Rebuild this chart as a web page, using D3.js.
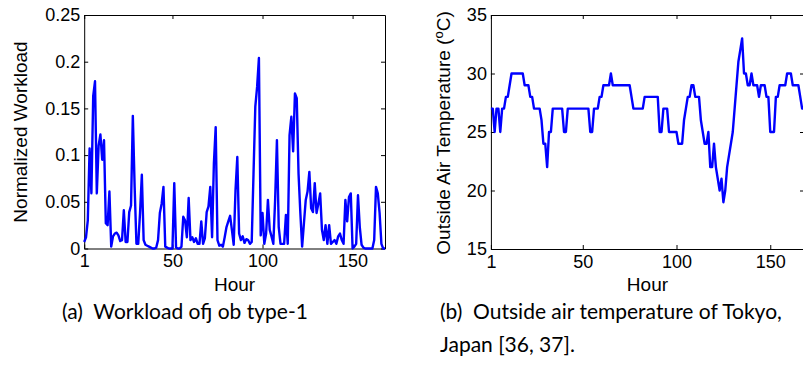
<!DOCTYPE html>
<html>
<head>
<meta charset="utf-8">
<script src="https://cdn.jsdelivr.net/npm/d3@7"></script>
<style>
  body { margin: 0; background: #fff; }
  svg { display: block; }
  .axis text { font-family: "Liberation Sans", Arial, sans-serif; font-size: 18px; fill: #000; }
  .axis path, .axis line { stroke: #000; stroke-width: 1; }
  .label { font-family: "Liberation Sans", Arial, sans-serif; font-size: 19px; fill: #000; }
  .caption { font-family: Lato, "Open Sans", sans-serif; font-size: 21px; fill: #000; }
</style>
</head>
<body>
<div id="chart"></div>
<script>
// hours of the week, 1..168
const hours = d3.range(1, 169);

// (a) normalized workload of job type-1
const workload = [
  0.007, 0.012, 0.030, 0.107, 0.059, 0.163, 0.179, 0.059, 0.110, 0.122,
  0.095, 0.116, 0.027, 0.025, 0.061, 0.002, 0.013, 0.016, 0.017, 0.014,
  0.008, 0.009, 0.041, 0.007, 0.007, 0.039, 0.046, 0.142, 0.066, 0.005,
  0.005, 0.038, 0.079, 0.009, 0.004, 0.003, 0.002, 0.001, 0, 0,
  0.001, 0.009, 0.038, 0.048, 0.066, 0.002, 0.001, 0, 0, 0,
  0.070, 0.001, 0, 0, 0.002, 0.034, 0.030, 0.012, 0.054, 0.009,
  0.012, 0.007, 0.011, 0.005, 0.005, 0.029, 0.005, 0.011, 0.039, 0.045,
  0.066, 0.012, 0.091, 0.130, 0.009, 0.003, 0.004, 0.002, 0.012, 0.023,
  0.029, 0.035, 0.020, 0.004, 0.062, 0.098, 0.016, 0.009, 0.013, 0.006,
  0.010, 0.009, 0.005, 0.007, 0.080, 0.152, 0.173, 0.204, 0.014, 0.038,
  0.005, 0.016, 0.052, 0.020, 0.013, 0.005, 0.052, 0.116, 0.023, 0.005,
  0.005, 0.005, 0.036, 0.005, 0.121, 0.141, 0.104, 0.166, 0.161, 0.080,
  0.038, 0.002, 0.027, 0.052, 0.061, 0.082, 0.043, 0.039, 0.070, 0.038,
  0.048, 0.059, 0.020, 0.009, 0.025, 0.005, 0.025, 0.005, 0.007, 0.009,
  0.005, 0.013, 0.016, 0.009, 0.005, 0.052, 0.029, 0.055, 0.059, 0,
  0.002, 0.005, 0.057, 0.023, 0.004, 0.001, 0, 0, 0, 0,
  0, 0.009, 0.066, 0.059, 0.038, 0.005, 0, 0
];

// (b) outside air temperature of Tokyo (deg C)
const temperature = [
  27, 27, 25, 27, 27, 25, 27, 27, 28, 28,
  29, 30, 30, 30, 30, 30, 30, 30, 29, 29,
  29, 28, 28, 27, 27, 27, 27, 26, 24, 24,
  22, 25, 25, 27, 27, 27, 27, 27, 27, 25,
  25, 27, 27, 27, 27, 27, 27, 27, 27, 27,
  27, 27, 27, 25, 25, 27, 27, 27, 28, 28,
  29, 29, 29, 29, 30, 29, 29, 29, 29, 29,
  29, 29, 29, 29, 29, 28, 27, 27, 27, 27,
  27, 27, 28, 28, 28, 28, 28, 28, 28, 28,
  25, 25, 27, 27, 27, 25, 25, 25, 25, 25,
  24, 24, 24, 26, 27, 28, 28, 29, 29, 28,
  28, 28, 26, 25, 24, 24, 25, 22, 22, 24,
  22, 21, 20, 21, 19, 20, 22, 23, 24, 25,
  27, 29, 31, 32, 33, 30, 30, 29, 29, 30,
  29, 29, 29, 28, 29, 29, 29, 28, 28, 25,
  25, 25, 28, 28, 29, 29, 29, 29, 30, 30,
  30, 29, 29, 29, 29, 28, 27, 27
];

const xTicks = [1, 50, 100, 150];
const workloadTicks = [0, 0.05, 0.1, 0.15, 0.2, 0.25];
const workloadTickLabels = ["0", "0.05", "0.1", "0.15", "0.2", "0.25"];
const tempTicks = [15, 20, 25, 30, 35];

const W = 803, H = 367;

const svg = d3.select("#chart")
    .append("svg")
    .attr("width", W)
    .attr("height", H);

// draws one matlab style panel: boxed axes, inward ticks on all sides
function drawPanel(p) {
    const x = d3.scaleLinear().domain([1, 168]).range([p.left, p.right]);
    const y = d3.scaleLinear().domain(p.yDomain).range([p.bottom, p.top]);
    const tick = 4;

    svg.append("g")
        .attr("class", "axis")
        .attr("transform", `translate(0, ${p.bottom})`)
        .call(d3.axisBottom(x).tickValues(xTicks).tickSizeInner(-tick).tickSizeOuter(0).tickPadding(6));
    svg.append("g")
        .attr("class", "axis")
        .attr("transform", `translate(0, ${p.top})`)
        .call(d3.axisTop(x).tickValues(xTicks).tickSizeInner(-tick).tickSizeOuter(0).tickFormat(""));
    svg.append("g")
        .attr("class", "axis")
        .attr("transform", `translate(${p.left}, 0)`)
        .call(d3.axisLeft(y).tickValues(p.yTicks).tickSizeInner(-tick).tickSizeOuter(0).tickPadding(4)
            .tickFormat((d, i) => p.yLabels[i]));
    svg.append("g")
        .attr("class", "axis")
        .attr("transform", `translate(${p.right}, 0)`)
        .call(d3.axisRight(y).tickValues(p.yTicks).tickSizeInner(-tick).tickSizeOuter(0).tickFormat(""));

    const line = d3.line()
        .x((d, i) => x(hours[i]))
        .y(d => y(d));

    svg.append("path")
        .datum(p.values)
        .attr("fill", "none")
        .attr("stroke", "#0000ff")
        .attr("stroke-width", 2.4)
        .attr("stroke-linejoin", "round")
        .attr("d", line);

    // x label
    svg.append("text")
        .attr("class", "label")
        .attr("x", (p.left + p.right) / 2)
        .attr("y", p.bottom + 42)
        .attr("text-anchor", "middle")
        .text("Hour");
}

drawPanel({
    left: 84.2, right: 385, top: 15, bottom: 248.5,
    yDomain: [0, 0.25], yTicks: workloadTicks, yLabels: workloadTickLabels,
    values: workload
});

drawPanel({
    left: 490.9, right: 804, top: 15, bottom: 249,
    yDomain: [15, 35], yTicks: tempTicks, yLabels: tempTicks.map(String),
    values: temperature
});

// y labels
svg.append("text")
    .attr("class", "label")
    .attr("transform", "translate(27, 132) rotate(-90)")
    .attr("text-anchor", "middle")
    .text("Normalized Workload");

const tLabel = svg.append("text")
    .attr("class", "label")
    .attr("transform", "translate(450, 133) rotate(-90)")
    .attr("text-anchor", "middle");
tLabel.append("tspan").text("Outside Air Temperature (");
tLabel.append("tspan").attr("dy", -7).style("font-size", "13px").text("o");
tLabel.append("tspan").attr("dy", 7).text("C)");

// captions
svg.append("text").attr("class", "caption").attr("x", 62).attr("y", 319)
    .attr("xml:space", "preserve").text("(a)  Workload ofj ob type-1");
svg.append("text").attr("class", "caption").attr("x", 440).attr("y", 319)
    .attr("xml:space", "preserve").text("(b)  Outside air temperature of Tokyo,");
svg.append("text").attr("class", "caption").attr("x", 440).attr("y", 352)
    .text("Japan [36, 37].");
</script>
</body>
</html>
